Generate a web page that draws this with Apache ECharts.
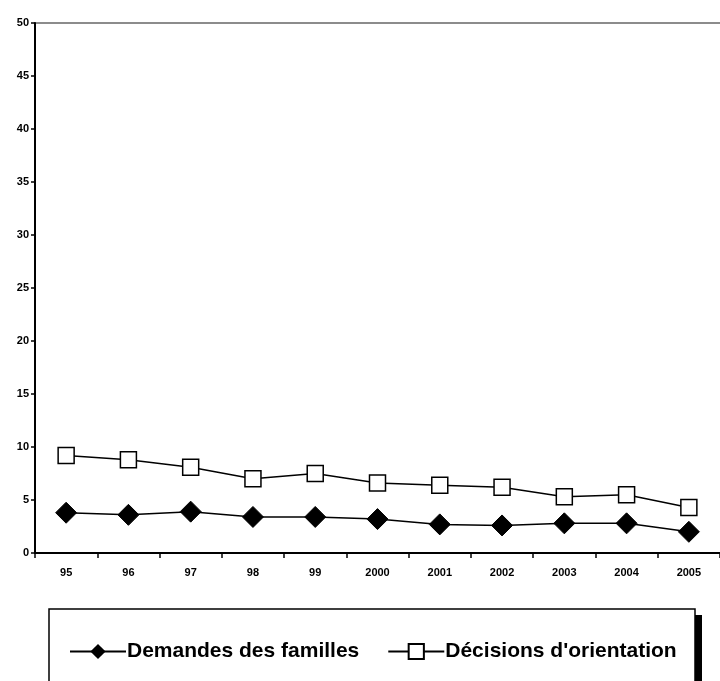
<!DOCTYPE html>
<html>
<head>
<meta charset="utf-8">
<script src="https://cdn.jsdelivr.net/npm/echarts@6/dist/echarts.min.js"></script>
<style>
html,body{margin:0;padding:0;background:#fff;}
#chart{width:720px;height:681px;}
</style>
</head>
<body>
<div id="chart"></div>
<script>
var years = ['95','96','97','98','99','2000','2001','2002','2003','2004','2005'];
var demandes = [3.8, 3.6, 3.9, 3.4, 3.4, 3.2, 2.7, 2.6, 2.8, 2.8, 2.0];
var decisions = [9.2, 8.8, 8.1, 7.0, 7.5, 6.6, 6.4, 6.2, 5.3, 5.5, 4.3];
var yTicks = [0, 5, 10, 15, 20, 25, 30, 35, 40, 45, 50];

var chart = echarts.init(document.getElementById('chart'));
var font = '"Liberation Sans", Arial, sans-serif';

// only the top gridline (50) is drawn, in grey
var splitColors = yTicks.map(function(v){ return v === 50 ? '#8c8c8c' : 'rgba(0,0,0,0)'; });

var option = {
	animation: false,
	grid: {left: 35, top: 23, width: 691, bottom: 128},
	xAxis: {
		type: 'category',
		data: years,
		boundaryGap: true,
		axisLine: {lineStyle: {color: '#000', width: 2}},
		axisTick: {show: true, length: 5, lineStyle: {color: '#000', width: 1.5}},
		axisLabel: {color: '#000', fontWeight: 'bold', fontSize: 11, fontFamily: font, margin: 14}
	},
	yAxis: {
		type: 'value',
		min: 0, max: 50, interval: 5,
		axisLine: {show: true, lineStyle: {color: '#000', width: 2}},
		axisTick: {show: true, length: 4, lineStyle: {color: '#000', width: 1.5}},
		axisLabel: {color: '#000', fontWeight: 'bold', fontSize: 11, fontFamily: font, margin: 6},
		splitLine: {show: true, lineStyle: {color: splitColors, width: 2}}
	},
	legend: {
		left: 64, top: 636,
		itemWidth: 56, itemHeight: 19, itemGap: 28,
		textStyle: {color: '#000', fontWeight: 'bold', fontSize: 21, fontFamily: font, padding: [0,0,0,-4]},
		data: ['Demandes des familles', "Décisions d'orientation"]
	},
	graphic: [
		{type: 'rect', z: -1, shape: {x: 695, y: 615, width: 7, height: 70}, style: {fill: '#000'}},
		{type: 'rect', z: -1, shape: {x: 49, y: 609, width: 646, height: 80}, style: {fill: '#fff', stroke: '#000', lineWidth: 1.5}}
	],
	series: [
		{
			name: 'Demandes des familles',
			type: 'line',
			data: demandes,
			symbol: 'diamond',
			symbolSize: [21, 21],
			lineStyle: {color: '#000', width: 1.5},
			itemStyle: {color: '#000', borderColor: '#000'}
		},
		{
			name: "Décisions d'orientation",
			type: 'line',
			data: decisions,
			symbol: 'rect',
			symbolSize: 16,
			lineStyle: {color: '#000', width: 1.5},
			itemStyle: {color: '#fff', borderColor: '#000', borderWidth: 1.5}
		}
	]
};
chart.setOption(option);
</script>
</body>
</html>
